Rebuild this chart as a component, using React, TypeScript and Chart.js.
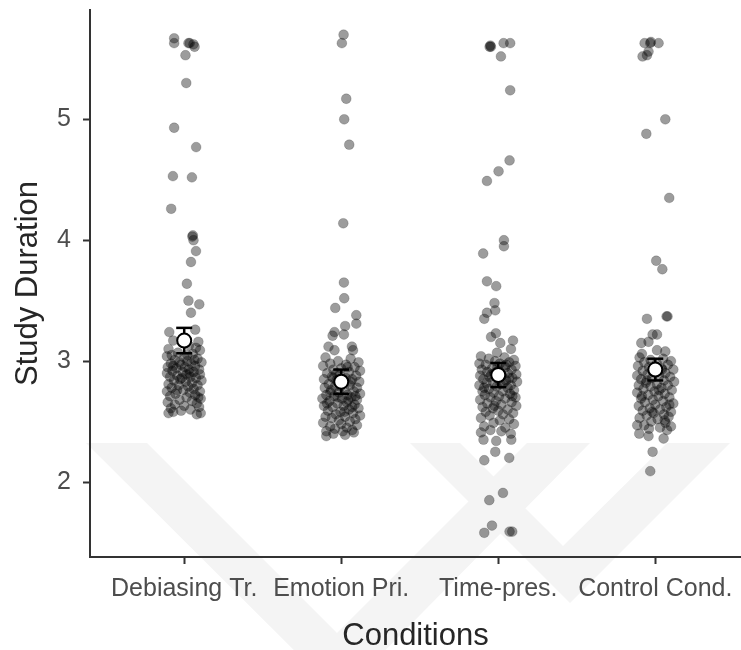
import React, { useEffect, useRef } from "react";
import { Chart, registerables } from "chart.js";

Chart.register(...registerables);

// Experimental conditions along the x axis
const conditions = ["Debiasing Tr.", "Emotion Pri.", "Time-pres.", "Control Cond."];
const yTickValues = [2, 3, 4, 5];

// Individual study durations per condition: [horizontal jitter, duration]
const debiasingTr: [number, number][] = [
  [-0.064, 5.67], [-0.064, 5.63], [0.027, 5.63], [0.035, 5.63], [0.059, 5.62], [0.066, 5.6],
  [0.008, 5.53], [0.013, 5.3], [-0.064, 4.93], [0.076, 4.77], [-0.072, 4.53], [0.049, 4.52],
  [-0.083, 4.26], [0.055, 4.04], [0.059, 4.0], [0.052, 4.03], [0.075, 3.91], [0.043, 3.82],
  [0.017, 3.64], [0.027, 3.5], [0.096, 3.47], [0.043, 3.4],
  [-0.095, 3.24], [0.07, 3.26], [-0.07, 3.17], [0.09, 3.16], [0.1, 3.09], [-0.1, 3.1], [0.03, 3.13], [-0.04, 3.07],
  [0.055, 3.06], [-0.11, 3.04], [0.0, 3.03], [0.085, 3.02], [-0.06, 3.01], [0.02, 3.0], [0.11, 2.99], [-0.085, 2.98],
  [0.045, 2.98], [-0.02, 2.97], [0.07, 2.96], [-0.105, 2.95], [0.005, 2.95], [-0.05, 2.94], [0.095, 2.93], [0.03, 2.93],
  [-0.075, 2.92], [-0.01, 2.91], [0.06, 2.91], [-0.11, 2.9], [0.015, 2.89], [0.1, 2.89], [-0.045, 2.88], [0.04, 2.87],
  [-0.09, 2.87], [0.075, 2.86], [-0.025, 2.85], [0.11, 2.84], [-0.065, 2.84], [0.01, 2.83], [0.05, 2.82], [-0.1, 2.81],
  [-0.035, 2.8], [0.085, 2.8], [0.025, 2.79], [-0.08, 2.78], [0.06, 2.77], [-0.005, 2.76], [-0.11, 2.75], [0.1, 2.75],
  [0.035, 2.74], [-0.055, 2.73], [0.07, 2.72], [-0.09, 2.71], [0.015, 2.7], [0.105, 2.69], [-0.03, 2.68], [0.05, 2.67],
  [-0.105, 2.66], [0.08, 2.65], [-0.06, 2.64], [0.0, 2.63], [0.095, 2.62], [-0.085, 2.61], [0.04, 2.6], [-0.02, 2.59],
  [0.105, 2.57], [-0.1, 2.57], [0.08, 2.56], [-0.07, 2.58],
  [0.02, 3.05], [-0.03, 2.99], [0.065, 3.01], [-0.015, 2.86], [0.035, 2.9], [-0.07, 2.96], [0.09, 2.7], [-0.045, 2.76],
  [0.075, 3.11], [-0.08, 3.05],
];

const emotionPri: [number, number][] = [
  [0.015, 5.7], [0.004, 5.63], [0.032, 5.17], [0.019, 5.0], [0.051, 4.79], [0.013, 4.14],
  [0.017, 3.65], [0.019, 3.52], [-0.038, 3.44], [0.096, 3.38], [0.096, 3.31], [0.025, 3.29],
  [-0.043, 3.24], [-0.055, 3.21], [0.017, 3.22], [-0.081, 3.12], [0.068, 3.12], [0.075, 3.09], [-0.043, 3.09],
  [-0.1, 3.03], [0.06, 3.02], [-0.02, 3.0], [0.11, 2.99], [-0.07, 2.98], [0.03, 2.97], [-0.115, 2.96], [0.085, 2.95],
  [0.0, 2.94], [-0.05, 2.93], [0.12, 2.92], [0.05, 2.91], [-0.09, 2.9], [-0.01, 2.89], [0.095, 2.88], [-0.06, 2.87],
  [0.03, 2.86], [-0.11, 2.85], [0.07, 2.85], [-0.03, 2.84], [0.115, 2.83], [0.01, 2.82], [-0.08, 2.81], [0.055, 2.8],
  [-0.04, 2.79], [0.1, 2.78], [-0.105, 2.78], [0.02, 2.77], [-0.065, 2.76], [0.08, 2.75], [-0.015, 2.74], [0.12, 2.73],
  [-0.095, 2.72], [0.04, 2.72], [-0.045, 2.71], [0.065, 2.7], [-0.12, 2.69], [0.005, 2.69], [0.1, 2.68], [-0.075, 2.67],
  [0.035, 2.66], [-0.025, 2.65], [0.085, 2.64], [-0.11, 2.63], [0.015, 2.63], [-0.055, 2.62], [0.11, 2.61], [0.05, 2.6],
  [-0.085, 2.59], [-0.005, 2.58], [0.075, 2.57], [-0.035, 2.56], [0.12, 2.55], [-0.1, 2.54], [0.025, 2.54], [-0.06, 2.53],
  [0.09, 2.52], [-0.015, 2.51], [0.055, 2.5], [-0.115, 2.49], [0.0, 2.48], [0.1, 2.47], [-0.07, 2.46], [0.035, 2.45],
  [-0.04, 2.44], [0.07, 2.43], [-0.095, 2.42], [0.01, 2.42], [-0.095, 2.38], [-0.05, 2.4], [0.025, 2.39], [0.08, 2.41],
  [0.04, 2.95], [-0.03, 2.9], [0.06, 2.83], [-0.07, 2.74], [0.09, 2.71], [-0.005, 2.79], [0.045, 2.68], [-0.09, 2.65],
  [0.02, 2.58], [-0.02, 2.7], [0.07, 2.62], [-0.05, 2.86],
];

const timePres: [number, number][] = [
  [-0.055, 5.6], [-0.05, 5.61], [-0.047, 5.6], [0.034, 5.63], [0.076, 5.63], [0.017, 5.52],
  [0.076, 5.24], [0.072, 4.66], [0.002, 4.57], [-0.072, 4.49], [0.036, 4.0], [0.036, 3.95],
  [-0.096, 3.89], [-0.072, 3.66], [-0.013, 3.62], [-0.024, 3.48], [-0.019, 3.42], [-0.072, 3.4],
  [-0.089, 3.35], [-0.015, 3.23], [-0.046, 3.2], [0.013, 3.15], [0.094, 3.17], [0.081, 3.1], [-0.008, 3.07],
  [-0.094, 2.35], [-0.013, 2.34], [0.083, 2.35], [-0.019, 2.25], [-0.089, 2.18], [0.07, 2.2],
  [0.03, 1.91], [-0.057, 1.85], [-0.04, 1.64], [-0.089, 1.58], [0.072, 1.59], [0.089, 1.59],
  [-0.11, 3.04], [0.04, 3.03], [-0.06, 3.02], [0.1, 3.01], [-0.02, 3.0], [0.07, 2.99], [-0.12, 2.98], [0.01, 2.98],
  [-0.08, 2.97], [0.11, 2.96], [0.045, 2.95], [-0.04, 2.94], [-0.105, 2.93], [0.085, 2.93], [0.0, 2.92], [-0.07, 2.91],
  [0.06, 2.9], [-0.025, 2.9], [0.115, 2.89], [-0.115, 2.88], [0.025, 2.88], [-0.055, 2.87], [0.09, 2.86], [-0.005, 2.86],
  [-0.095, 2.85], [0.05, 2.84], [0.12, 2.83], [-0.035, 2.83], [-0.075, 2.82], [0.015, 2.81], [0.08, 2.8], [-0.12, 2.8],
  [-0.01, 2.79], [0.06, 2.78], [-0.06, 2.77], [0.1, 2.76], [-0.1, 2.75], [0.03, 2.75], [-0.03, 2.74], [0.075, 2.73],
  [-0.085, 2.72], [0.005, 2.71], [0.11, 2.7], [-0.05, 2.7], [0.045, 2.69], [-0.115, 2.68], [-0.015, 2.67], [0.085, 2.66],
  [-0.07, 2.65], [0.02, 2.64], [0.115, 2.63], [-0.1, 2.62], [-0.035, 2.61], [0.06, 2.6], [0.0, 2.59], [-0.08, 2.58],
  [0.095, 2.57], [0.03, 2.56], [-0.055, 2.55], [-0.11, 2.53], [0.07, 2.52], [0.01, 2.51], [-0.03, 2.49], [0.1, 2.48],
  [-0.09, 2.46], [0.045, 2.45], [-0.05, 2.43], [0.02, 2.42], [-0.11, 2.41], [0.08, 2.4],
  [0.05, 2.97], [-0.045, 2.89], [0.035, 2.82], [-0.09, 2.78], [0.07, 2.86], [-0.005, 2.95], [0.09, 2.71], [-0.025, 2.63],
];

const controlCond: [number, number][] = [
  [-0.068, 5.63], [-0.032, 5.63], [-0.028, 5.64], [0.021, 5.63], [-0.043, 5.56], [-0.081, 5.52],
  [-0.053, 5.53], [0.064, 5.0], [-0.057, 4.88], [0.089, 4.35], [0.006, 3.83], [0.045, 3.76],
  [-0.053, 3.35], [0.072, 3.37], [0.078, 3.37], [0.011, 3.22], [-0.017, 3.22], [-0.089, 3.15],
  [-0.043, 3.16], [-0.085, 3.06], [0.064, 3.08], [0.011, 3.09],
  [-0.102, 2.4], [0.053, 2.36], [-0.043, 2.38], [-0.017, 2.25], [-0.032, 2.09],
  [-0.1, 3.03], [0.05, 3.02], [-0.03, 3.01], [0.1, 3.0], [-0.07, 2.99], [0.01, 2.98], [0.08, 2.97], [-0.11, 2.96],
  [-0.04, 2.95], [0.04, 2.94], [0.115, 2.93], [-0.08, 2.92], [0.0, 2.91], [0.065, 2.9], [-0.05, 2.89], [-0.115, 2.88],
  [0.025, 2.88], [0.095, 2.87], [-0.02, 2.86], [-0.09, 2.85], [0.055, 2.84], [0.12, 2.83], [-0.06, 2.82], [0.01, 2.81],
  [-0.105, 2.8], [0.08, 2.8], [-0.03, 2.79], [0.04, 2.78], [-0.075, 2.77], [0.105, 2.76], [-0.005, 2.75], [-0.115, 2.74],
  [0.06, 2.73], [-0.045, 2.72], [0.02, 2.71], [0.09, 2.7], [-0.09, 2.69], [-0.015, 2.68], [0.05, 2.67], [-0.065, 2.66],
  [0.115, 2.65], [0.0, 2.64], [-0.105, 2.63], [0.07, 2.62], [-0.035, 2.61], [0.03, 2.6], [-0.08, 2.59], [0.1, 2.58],
  [-0.01, 2.57], [0.055, 2.56], [-0.055, 2.55], [0.085, 2.54], [-0.1, 2.53], [0.015, 2.52], [-0.025, 2.5], [0.065, 2.49],
  [-0.07, 2.47], [0.1, 2.46], [0.03, 2.45], [-0.04, 2.44], [0.075, 2.43],
  [-0.115, 2.47], [0.045, 2.93], [-0.055, 2.84], [0.025, 2.76], [-0.085, 2.71], [0.09, 2.64], [-0.02, 2.58], [0.06, 2.51],
];

// Condition means and their standard errors
const conditionMeans = [3.17, 2.83, 2.885, 2.93];
const conditionSE = [0.105, 0.1, 0.1, 0.09];

const FONT = "'Liberation Sans', Arial, Helvetica, sans-serif";

// Faint chevron backdrop behind the lower part of the figure
const backdropPlugin = {
  id: "backdrop",
  beforeDraw(chart: any) {
    const ctx = chart.ctx as CanvasRenderingContext2D;
    ctx.save();
    ctx.fillStyle = "#f4f4f4";
    const shapes: number[][][] = [
      [[86, 443], [147, 443], [337, 633], [527, 443], [590, 443], [340, 696]],
      [[410, 443], [460, 443], [563, 546], [667, 443], [730, 443], [570, 603]],
    ];
    for (const s of shapes) {
      ctx.beginPath();
      s.forEach(([px, py], i) => (i === 0 ? ctx.moveTo(px, py) : ctx.lineTo(px, py)));
      ctx.closePath();
      ctx.fill();
    }
    ctx.restore();
  },
};

const zeroPadding = (scale: any) => {
  scale.paddingTop = 0;
  scale.paddingBottom = 0;
  scale.paddingLeft = 0;
  scale.paddingRight = 0;
};

export default function App() {
  const canvasRef = useRef<HTMLCanvasElement | null>(null);

  useEffect(() => {
    if (!canvasRef.current) return;
    const groups = [debiasingTr, emotionPri, timePres, controlCond];
    const observations = groups.flatMap((g, i) =>
      g.map(([jit, v]) => ({ x: i + 1 + jit, y: v }))
    );
    const errorLines = conditionMeans.map((m, i) => ({
      type: "scatter" as const,
      data: [
        { x: i + 1, y: m - conditionSE[i] },
        { x: i + 1, y: m + conditionSE[i] },
      ],
      showLine: true,
      borderColor: "#000",
      borderWidth: 2.5,
      pointRadius: 0,
      order: 2,
    }));
    const caps = conditionMeans.flatMap((m, i) => [
      { x: i + 1, y: m - conditionSE[i] },
      { x: i + 1, y: m + conditionSE[i] },
    ]);

    const chart = new Chart(canvasRef.current, {
      type: "scatter",
      data: {
        datasets: [
          {
            data: observations,
            backgroundColor: "rgba(0,0,0,0.39)",
            borderColor: "rgba(0,0,0,0.22)",
            borderWidth: 0.8,
            pointRadius: 4.9,
            order: 3,
          },
          ...errorLines,
          {
            data: caps,
            pointStyle: "line",
            pointRadius: 8,
            borderColor: "#000",
            borderWidth: 2.5,
            order: 2,
          },
          {
            data: conditionMeans.map((m, i) => ({ x: i + 1, y: m })),
            pointRadius: 7,
            backgroundColor: "#fff",
            borderColor: "#000",
            borderWidth: 2,
            order: 1,
          },
        ] as any,
      },
      options: {
        responsive: false,
        animation: false,
        devicePixelRatio: 1,
        layout: { autoPadding: false, padding: { top: 10, right: 0, left: 0, bottom: 0 } },
        plugins: {
          legend: { display: false },
          tooltip: { enabled: false },
        },
        scales: {
          x: {
            type: "linear",
            min: 0.4,
            max: 4.546,
            afterBuildTicks: (scale: any) => {
              scale.ticks = conditions.map((_, i) => ({ value: i + 1 }));
            },
            afterFit: (scale: any) => {
              scale.height = 93;
              zeroPadding(scale);
            },
            ticks: {
              autoSkip: false,
              maxRotation: 0,
              padding: 10,
              color: "#4d4d4d",
              font: { family: FONT, size: 25 },
              callback: (v: any) => conditions[Math.round(Number(v)) - 1] ?? "",
            },
            grid: {
              drawOnChartArea: false,
              drawTicks: true,
              tickLength: 7,
              tickWidth: 2,
              tickColor: "#333",
            },
            border: { display: true, color: "#333", width: 2 },
            title: {
              display: true,
              text: "Conditions",
              color: "#262626",
              font: { family: FONT, size: 31, lineHeight: 0.85 },
              padding: { top: 0, bottom: 0 },
            },
          },
          y: {
            type: "linear",
            min: 1.38,
            max: 5.904,
            afterBuildTicks: (scale: any) => {
              scale.ticks = yTickValues.map((v) => ({ value: v }));
            },
            afterFit: (scale: any) => {
              scale.width = 90;
              zeroPadding(scale);
            },
            ticks: {
              padding: 12,
              color: "#4d4d4d",
              font: { family: FONT, size: 25 },
              callback: (v: any) => String(v),
            },
            grid: {
              drawOnChartArea: false,
              drawTicks: true,
              tickLength: 7,
              tickWidth: 2,
              tickColor: "#333",
            },
            border: { display: true, color: "#333", width: 2 },
            title: {
              display: true,
              text: "Study Duration",
              color: "#262626",
              font: { family: FONT, size: 31, lineHeight: 1.1 },
              padding: { top: 11, bottom: 0 },
            },
          },
        },
      },
      plugins: [backdropPlugin],
    });
    return () => chart.destroy();
  }, []);

  return (
    <div style={{ position: "fixed", left: 0, top: 0, width: 741, height: 650, background: "#fff" }}>
      <canvas ref={canvasRef} width={741} height={650} />
    </div>
  );
}
